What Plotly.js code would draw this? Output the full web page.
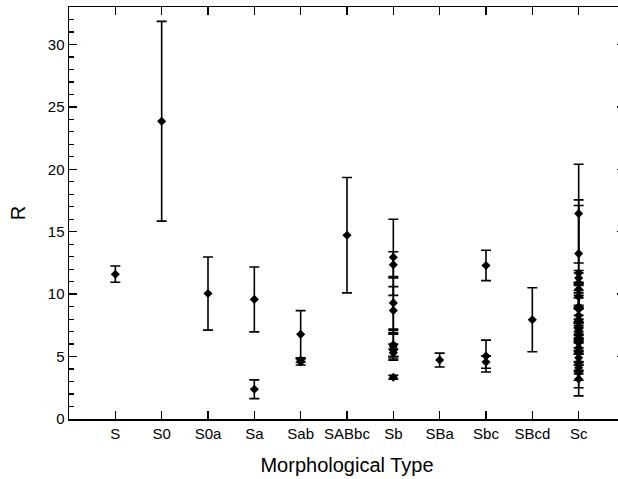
<!DOCTYPE html>
<html>
<head>
<meta charset="utf-8">
<script src="https://cdn.plot.ly/plotly-3.0.1.min.js"></script>
<style>
html, body { margin: 0; padding: 0; overflow: hidden; width: 618px; height: 479px; background: #fff; }
#chart { width: 626px; height: 479px; }
</style>
</head>
<body>
<div id="chart"></div>
<script>
// Morphological types (x categories)
const categories = ["S", "S0", "S0a", "Sa", "Sab", "SABbc", "Sb", "SBa", "Sbc", "SBcd", "Sc"];

// R values and their errors per morphological type
const R_S      = [11.6];             const err_S      = [0.65];
const R_S0     = [23.85];            const err_S0     = [8.0];
const R_S0a    = [10.05];            const err_S0a    = [2.93];
const R_Sa     = [9.58, 2.38];       const err_Sa     = [2.6, 0.75];
const R_Sab    = [6.78, 4.72, 4.56]; const err_Sab    = [1.9, 0.18, 0.24];
const R_SABbc  = [14.72];            const err_SABbc  = [4.62];
const R_Sb     = [12.95, 12.35, 9.3, 8.7, 5.95, 5.8, 5.5, 5.3, 3.35];
const err_Sb   = [3.05, 1.05, 2.1, 1.9, 1.15, 1.1, 0.5, 0.3, 0.16];
const R_SBa    = [4.72];             const err_SBa    = [0.56];
const R_Sbc    = [12.3, 5.04, 4.56]; const err_Sbc    = [1.22, 1.28, 0.5];
const R_SBcd   = [7.95];             const err_SBcd   = [2.56];
const R_Sc     = [16.45, 13.25, 11.7, 11.3, 10.9, 10.4, 9.8, 9.0, 8.8, 8.3, 7.9, 7.4,
                  7.2, 7.0, 6.7, 6.4, 6.1, 5.7, 5.3, 4.9, 4.5, 4.1, 3.7, 3.2];
const err_Sc   = [3.95, 4.3, 5.4, 0.6, 0.8, 0.5, 1.0, 0.7, 1.5, 0.6, 1.2, 0.4,
                  0.8, 0.5, 1.0, 4.55, 0.7, 0.5, 0.8, 0.6, 0.7, 0.5, 0.6, 0.7];

const groups = [
  ["S", R_S, err_S], ["S0", R_S0, err_S0], ["S0a", R_S0a, err_S0a], ["Sa", R_Sa, err_Sa],
  ["Sab", R_Sab, err_Sab], ["SABbc", R_SABbc, err_SABbc], ["Sb", R_Sb, err_Sb],
  ["SBa", R_SBa, err_SBa], ["Sbc", R_Sbc, err_Sbc], ["SBcd", R_SBcd, err_SBcd], ["Sc", R_Sc, err_Sc]
];

const xs = [], ys = [], es = [];
groups.forEach(([c, v, e]) => { v.forEach((val, i) => { xs.push(c); ys.push(val); es.push(e[i]); }); });

const trace = {
  type: "scatter",
  mode: "markers",
  x: xs,
  y: ys,
  marker: { symbol: "diamond", size: 7, color: "#000" },
  error_y: { type: "data", array: es, visible: true, color: "#000", thickness: 1.6, width: 5 },
  showlegend: false,
  hoverinfo: "x+y"
};

const fontFam = "Liberation Sans, Arial, Helvetica, sans-serif";

const layout = {
  width: 626,
  height: 479,
  margin: { l: 69, r: 1, t: 7, b: 60 },
  paper_bgcolor: "#fff",
  plot_bgcolor: "#fff",
  font: { family: fontFam, color: "#000", size: 15 },
  xaxis: {
    type: "category",
    categoryorder: "array",
    categoryarray: categories,
    range: [-1, 11],
    showgrid: false,
    zeroline: false,
    showline: true,
    linecolor: "#000",
    linewidth: 1.5,
    mirror: "ticks",
    ticks: "inside",
    ticklen: 8,
    tickwidth: 1.5,
    tickcolor: "#000",
    tickfont: { family: fontFam, size: 15, color: "#000" },
    title: { text: "Morphological Type", font: { family: fontFam, size: 20, color: "#000" }, standoff: 17 }
  },
  yaxis: {
    range: [0, 33],
    dtick: 5,
    showgrid: false,
    zeroline: false,
    showline: true,
    linecolor: "#000",
    linewidth: 1.5,
    mirror: "ticks",
    ticks: "inside",
    ticklen: 8,
    tickwidth: 1.5,
    tickcolor: "#000",
    minor: { dtick: 1, ticks: "inside", ticklen: 5, tickwidth: 1.2, tickcolor: "#000", showgrid: false },
    tickfont: { family: fontFam, size: 15, color: "#000" },
    title: { text: "R", font: { family: fontFam, size: 20, color: "#000" }, standoff: 17 }
  }
};

Plotly.newPlot("chart", [trace], layout, { displayModeBar: false, staticPlot: true });
</script>
</body>
</html>
